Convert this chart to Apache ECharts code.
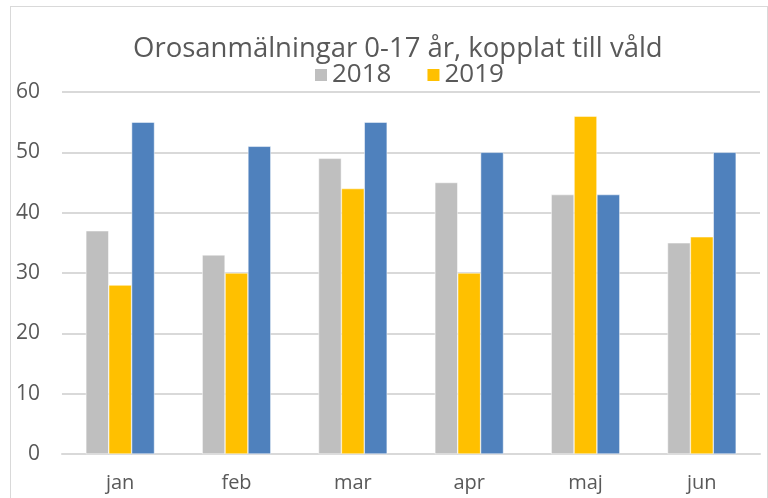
<!DOCTYPE html>
<html>
<head>
<meta charset="utf-8">
<script src="https://cdn.jsdelivr.net/npm/echarts@6/dist/echarts.min.js"></script>
<style>
  html, body { margin: 0; padding: 0; background: #fff; }
  #frame { position: absolute; left: 10px; top: 6px; width: 756px; height: 500px; border: 1px solid #d9d9d9; }
  #chart { position: absolute; left: 0; top: 0; width: 768px; height: 498px; }
</style>
</head>
<body>
<div id="frame"></div>
<div id="chart"></div>
<script>
  // månader och värden
  const months = ['jan', 'feb', 'mar', 'apr', 'maj', 'jun']
  const values2018 = [37, 33, 49, 45, 43, 35]
  const values2019 = [28, 30, 44, 30, 56, 36]
  const values2020 = [55, 51, 55, 50, 43, 50]
  const yTicks = [0, 10, 20, 30, 40, 50, 60]

  const font = '"Open Sans", sans-serif'
  const chart = echarts.init(document.getElementById('chart'))

  chart.setOption({
    animation: false,
    title: {
      text: 'Orosanmälningar 0-17 år, kopplat till våld',
      left: 128,
      top: 30,
      textStyle: { fontFamily: font, fontSize: 27.5, fontWeight: 'normal', color: '#595959' }
    },
    legend: {
      data: ['2018', '2019'],
      top: 57,
      left: 308,
      itemWidth: 14,
      itemHeight: 14,
      itemGap: 34,
      icon: 'rect',
      textStyle: { fontFamily: font, fontSize: 26, color: '#595959', padding: [0, 0, 0, -1] }
    },
    grid: { left: 62, right: 8, top: 92, bottom: 44, containLabel: false, outerBoundsMode: 'none' },
    xAxis: {
      type: 'category',
      data: months,
      axisTick: { show: false },
      axisLine: { lineStyle: { color: '#d9d9d9', width: 2 } },
      axisLabel: { fontFamily: font, fontSize: 20, color: '#595959', margin: 19 }
    },
    yAxis: {
      type: 'value',
      min: yTicks[0],
      max: yTicks[yTicks.length - 1],
      interval: 10,
      axisLine: { show: false },
      axisTick: { show: false },
      splitLine: { lineStyle: { color: '#d9d9d9', width: 2 } },
      axisLabel: { fontFamily: font, fontSize: 21, color: '#595959', margin: 22 }
    },
    series: [
      { name: '2018', type: 'bar', data: values2018, itemStyle: { color: '#bfbfbf', borderColor: '#fff', borderWidth: 0.5 }, barGap: '0%', barCategoryGap: '41%' },
      { name: '2019', type: 'bar', data: values2019, itemStyle: { color: '#ffc000', borderColor: '#fff', borderWidth: 0.5 } },
      { name: '2020', type: 'bar', data: values2020, itemStyle: { color: '#4f81bd', borderColor: '#fff', borderWidth: 0.5 } }
    ]
  })
</script>
</body>
</html>
